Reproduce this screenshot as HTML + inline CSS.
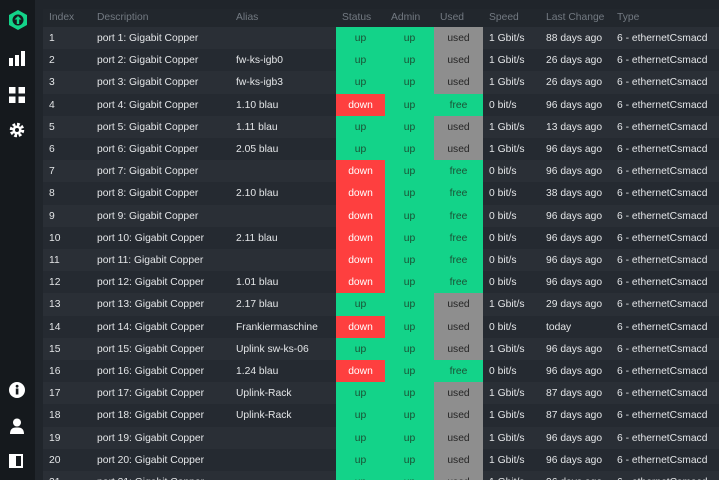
<!DOCTYPE html>
<html style="width:719px;height:480px;overflow:hidden"><head><meta charset="utf-8">
<style>
*{margin:0;padding:0;box-sizing:border-box}
body{width:719px;height:480px;overflow:hidden;background:#20252b;font-family:"Liberation Sans",sans-serif;font-size:10.3px;color:#e4e6e8;position:relative}
#sidebar{position:absolute;left:0;top:0;width:35px;height:480px;background:#15191d}
#sidebar svg{position:absolute;left:9px}
#table{position:absolute;left:43px;top:9px;width:676px;height:471px;overflow:hidden}
.row{position:absolute;left:0;width:676px;height:22.2px}
.row span{position:absolute;top:0;line-height:23px;white-space:nowrap}
.hdr{background:#22272d;height:18px}
.hdr span{line-height:18px;color:#737a82}
.cell{text-align:center;width:49px}
.up{background:#13d389;color:#1b5135}
.down{background:#fe3f3f;color:#fff}
.used{background:#8e8e8e;color:#252525}
.free{background:#13d389;color:#1b5135}
</style></head><body>
<div id="sidebar">
<svg style="top:10px" width="18" height="20" viewBox="0 0 18 20"><polygon points="9,0 18,5 18,15 9,20 0,15 0,5" fill="#13d389"/><circle cx="9" cy="10" r="5.5" fill="#15191d"/><path d="M9 6 L12.5 9.5 H10.2 V14 H7.8 V9.5 H5.5 Z" fill="#13d389"/></svg>
<svg style="top:51px" width="16" height="15"><rect x="0" y="7" width="4" height="8" fill="#fff"/><rect x="6" y="4" width="4" height="11" fill="#fff"/><rect x="12" y="0" width="4" height="15" fill="#fff"/></svg>
<svg style="top:87px" width="16" height="16"><rect x="0" y="0" width="6.5" height="6.5" fill="#fff"/><rect x="9.5" y="0" width="6.5" height="6.5" fill="#fff"/><rect x="0" y="9.5" width="6.5" height="6.5" fill="#fff"/><rect x="9.5" y="9.5" width="6.5" height="6.5" fill="#fff"/></svg>
<svg style="top:122px" width="16" height="16" viewBox="0 0 16 16"><circle cx="8" cy="8" r="5.5" fill="none" stroke="#fff" stroke-width="3.5" stroke-dasharray="2.6 1.7"/><circle cx="8" cy="8" r="4.5" fill="#fff"/><circle cx="8" cy="8" r="2" fill="#15191d"/></svg>
<svg style="top:382px" width="16" height="16"><circle cx="8" cy="8" r="8" fill="#fff"/><rect x="6.8" y="6.5" width="2.6" height="6" fill="#15191d"/><circle cx="8.1" cy="4.2" r="1.4" fill="#15191d"/></svg>
<svg style="top:418px" width="16" height="16"><circle cx="8" cy="4.5" r="4" fill="#fff"/><path d="M1 16 Q1 9 8 9.5 Q15 9 15 16 Z" fill="#fff"/></svg>
<svg style="top:454px" width="14" height="14"><rect x="1" y="1" width="12" height="12" fill="none" stroke="#fff" stroke-width="2"/><rect x="1" y="1" width="6" height="12" fill="#fff"/></svg>
</div>
<div id="table">
<div class="row hdr" style="top:0">
<span style="left:6px">Index</span>
<span style="left:54px">Description</span>
<span style="left:193px">Alias</span>
<span style="left:299px">Status</span>
<span style="left:348px">Admin</span>
<span style="left:397px">Used</span>
<span style="left:446px">Speed</span>
<span style="left:503px">Last Change</span>
<span style="left:574px">Type</span>
</div>
</div>
<script>
const aliases=["","fw-ks-igb0","fw-ks-igb3","1.10 blau","1.11 blau","2.05 blau","","2.10 blau","","2.11 blau","","1.01 blau","2.17 blau","Frankiermaschine","Uplink sw-ks-06","1.24 blau","Uplink-Rack","Uplink-Rack","","",""];
const statuses=["up","up","up","down","up","up","down","down","down","down","down","down","up","down","up","down","up","up","up","up","up"];
const useds=["used","used","used","free","used","used","free","free","free","free","free","free","used","used","used","free","used","used","used","used","used"];
const speeds=["1 Gbit/s","1 Gbit/s","1 Gbit/s","0 bit/s","1 Gbit/s","1 Gbit/s","0 bit/s","0 bit/s","0 bit/s","0 bit/s","0 bit/s","0 bit/s","1 Gbit/s","0 bit/s","1 Gbit/s","0 bit/s","1 Gbit/s","1 Gbit/s","1 Gbit/s","1 Gbit/s","1 Gbit/s"];
const changes=["88 days ago","26 days ago","26 days ago","96 days ago","13 days ago","96 days ago","96 days ago","38 days ago","96 days ago","96 days ago","96 days ago","96 days ago","29 days ago","today","96 days ago","96 days ago","87 days ago","87 days ago","96 days ago","96 days ago","96 days ago"];
const t=document.getElementById('table');
for(let i=0;i<aliases.length;i++){
 const r=document.createElement('div');
 r.className='row';
 
 
 r.style.top=(18+i*22.2)+'px';
 r.style.background=i%2===0?'#2a2f36':'#252a31';
 const n=i+1;
 r.innerHTML='<span style="left:6px">'+n+'</span>'+
 '<span style="left:54px">port '+n+': Gigabit Copper</span>'+
 '<span style="left:193px">'+aliases[i]+'</span>'+
 '<span class="cell '+statuses[i]+'" style="left:293px">'+statuses[i]+'</span>'+
 '<span class="cell up" style="left:342px">up</span>'+
 '<span class="cell '+useds[i]+'" style="left:391px">'+useds[i]+'</span>'+
 '<span style="left:446px">'+speeds[i]+'</span>'+
 '<span style="left:503px">'+changes[i]+'</span>'+
 '<span style="left:574px">6 - ethernetCsmacd</span>';
 const sp=r.querySelectorAll('span');
 for(const s of sp){s.style.height='22.2px';}
 t.appendChild(r);
}
</script>
</body></html>
